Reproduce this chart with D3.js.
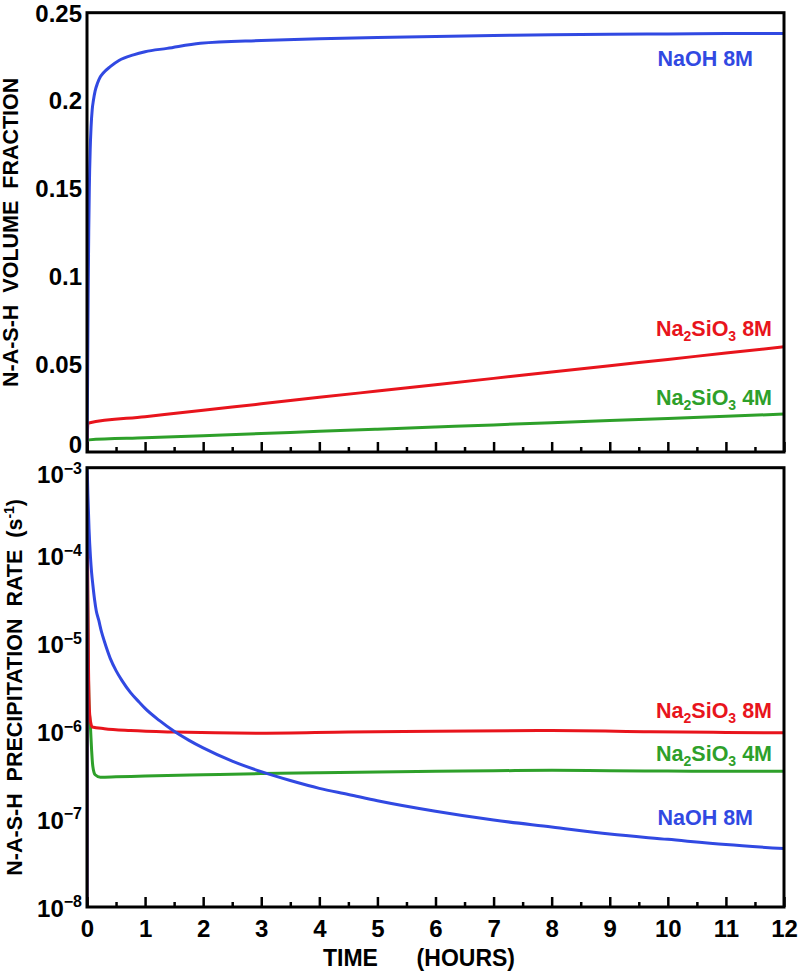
<!DOCTYPE html>
<html>
<head>
<meta charset="utf-8">
<script src="https://cdn.jsdelivr.net/npm/d3@7/dist/d3.min.js"></script>
<style>
  html, body { margin: 0; padding: 0; background: #fff; }
  svg { display: block; font-family: "Liberation Sans", Arial, Helvetica, sans-serif; font-weight: bold; }
</style>
</head>
<body>
<svg id="chart" width="798" height="973"></svg>
<script>
// ---------- DATA ----------
const xTicks = [0,1,2,3,4,5,6,7,8,9,10,11,12];
const xMinorTicks = [0.5,1.5,2.5,3.5,4.5,5.5,6.5,7.5,8.5,9.5,10.5,11.5];
const topYTicks = [0, 0.05, 0.1, 0.15, 0.2, 0.25];
const topYTickLabels = ["0", "0.05", "0.1", "0.15", "0.2", "0.25"];
const botYTicks = [1e-3, 1e-4, 1e-5, 1e-6, 1e-7, 1e-8];
const botYTickExponents = ["\u22123", "\u22124", "\u22125", "\u22126", "\u22127", "\u22128"];

// Top panel: volume fraction
const naohFracT = [0, 0.01, 0.02, 0.03, 0.04, 0.055, 0.07, 0.09, 0.11, 0.14, 0.18, 0.23, 0.28, 0.4, 0.55, 0.8, 1.0, 1.38, 1.95, 3, 4, 5, 6, 7, 8, 9, 10, 11, 12];
const naohFracV = [0, 0.04, 0.09, 0.125, 0.15, 0.172, 0.185, 0.195, 0.2, 0.2055, 0.2098, 0.2135, 0.2157, 0.2193, 0.2228, 0.226, 0.2278, 0.2297, 0.2326, 0.2342, 0.2352, 0.2359, 0.2365, 0.237, 0.2374, 0.2377, 0.2379, 0.2381, 0.2382];

const na8FracT = [0, 0.015, 0.03, 1, 2, 3, 4, 5, 6, 7, 8, 9, 10, 11, 12];
const na8FracV = [0, 0.0163, 0.0165, 0.0201, 0.0238, 0.0274, 0.0311, 0.0347, 0.0383, 0.0419, 0.0455, 0.0491, 0.0527, 0.0563, 0.0599];

const na4FracT = [0, 0.015, 0.03, 1, 2, 3, 4, 5, 6, 7, 8, 9, 10, 11, 12];
const na4FracV = [0, 0.0068, 0.0069, 0.0081, 0.0093, 0.0105, 0.0118, 0.013, 0.0142, 0.0154, 0.0167, 0.0179, 0.0191, 0.0203, 0.0216];

// Bottom panel: precipitation rate (s^-1)
const naohRateT = [0, 0.002, 0.006, 0.015, 0.035, 0.06, 0.08, 0.1, 0.13, 0.16, 0.2, 0.25, 0.3, 0.4, 0.5, 0.6, 0.75, 0.9, 1.0, 1.25, 1.5, 1.75, 2.0, 2.5, 3.0, 3.5, 4.0, 4.5, 5, 6, 7, 8, 9, 10, 11, 12];
const naohRateV = [1e-8, 1e-3, 8.9e-4, 5e-4, 2e-4, 9.55e-5, 6.31e-5, 4.68e-5, 3.16e-5, 2.34e-5, 1.86e-5, 1.35e-5, 1.05e-5, 6.76e-6, 4.9e-6, 3.8e-6, 2.75e-6, 2.14e-6, 1.82e-6, 1.32e-6, 1.0e-6, 7.94e-7, 6.46e-7, 4.57e-7, 3.47e-7, 2.75e-7, 2.24e-7, 1.91e-7, 1.62e-7, 1.23e-7, 9.77e-8, 8.13e-8, 6.76e-8, 5.89e-8, 5.13e-8, 4.62e-8];

const na8RateT = [0, 0.003, 0.008, 0.015, 0.025, 0.04, 0.06, 0.09, 0.3, 0.75, 1.5, 3, 4.5, 6, 8, 9.7, 11, 12];
const na8RateV = [1e-8, 5.5e-4, 1.5e-4, 3e-5, 6e-6, 1.8e-6, 1.3e-6, 1.12e-6, 1.07e-6, 1.02e-6, 9.8e-7, 9.5e-7, 9.8e-7, 1.0e-6, 1.02e-6, 9.9e-7, 9.7e-7, 9.6e-7];

const na4RateT = [0, 0.004, 0.01, 0.02, 0.035, 0.06, 0.08, 0.1, 0.14, 0.23, 0.5, 1, 2, 3, 4, 5, 6, 7, 8, 9, 10, 11, 12];
const na4RateV = [1e-8, 3e-4, 5e-5, 8e-6, 2e-6, 1.1e-6, 6e-7, 4e-7, 3.2e-7, 3.0e-7, 3.03e-7, 3.1e-7, 3.2e-7, 3.3e-7, 3.38e-7, 3.45e-7, 3.5e-7, 3.55e-7, 3.6e-7, 3.56e-7, 3.53e-7, 3.5e-7, 3.5e-7];

const seriesNames = ["NaOH 8M", "Na2SiO3 8M", "Na2SiO3 4M"];
const seriesColors = ["#3149e2", "#e8141c", "#2ea02a"];

// ---------- LAYOUT ----------
const svg = d3.select("#chart");
const L = 87, R = 784;
const topP = { y0: 12.7, y1: 452 };
const botP = { y0: 467.7, y1: 907 };
const FONT = "Liberation Sans, Arial, sans-serif";

const x = d3.scaleLinear().domain([0, 12]).range([L, R]);
const yTop = d3.scaleLinear().domain([0, 0.25]).range([topP.y1, topP.y0]);
const yBot = d3.scaleLog().domain([1e-8, 1e-3]).range([botP.y1, botP.y0]);

const defs = svg.append("defs");
[["clipTop", topP], ["clipBot", botP]].forEach(([id, p]) => {
  defs.append("clipPath").attr("id", id).append("rect")
    .attr("x", L).attr("y", p.y0 - 1).attr("width", R - L + 1).attr("height", p.y1 - p.y0 + 2);
});

function zip(t, v) { return t.map((d, i) => [d, v[i]]); }

function drawLine(data, yS, color, clip) {
  const line = d3.line().x(d => x(d[0])).y(d => yS(d[1])).curve(d3.curveMonotoneX);
  svg.append("path").datum(data)
    .attr("clip-path", `url(#${clip})`)
    .attr("fill", "none").attr("stroke", color).attr("stroke-width", 3)
    .attr("stroke-linejoin", "round").attr("d", line);
}

// Top lines
drawLine(zip(na4FracT, na4FracV), yTop, seriesColors[2], "clipTop");
drawLine(zip(na8FracT, na8FracV), yTop, seriesColors[1], "clipTop");
drawLine(zip(naohFracT, naohFracV), yTop, seriesColors[0], "clipTop");
// Bottom lines
drawLine(zip(na4RateT, na4RateV), yBot, seriesColors[2], "clipBot");
drawLine(zip(na8RateT, na8RateV), yBot, seriesColors[1], "clipBot");
drawLine(zip(naohRateT, naohRateV), yBot, seriesColors[0], "clipBot");

// X axes (inward ticks)
function xAxes(p, labels) {
  const gMin = svg.append("g").attr("transform", `translate(0,${p.y1})`)
    .call(d3.axisBottom(x).tickValues(xMinorTicks).tickSize(-5).tickFormat(""));
  const gMaj = svg.append("g").attr("transform", `translate(0,${p.y1})`)
    .call(d3.axisBottom(x).tickValues(xTicks).tickSize(-10)
      .tickFormat(labels ? d3.format("d") : ""));
  [gMin, gMaj].forEach(g => {
    g.select(".domain").remove();
    g.selectAll(".tick line").attr("stroke", "#000").attr("stroke-width", 2.5);
  });
  gMaj.selectAll(".tick text").attr("font-size", 24).attr("fill", "#000")
    .attr("font-family", FONT).attr("font-weight", "bold")
    .attr("dy", "0.35em").attr("y", 22);
}
xAxes(topP, false);
xAxes(botP, true);

// Y axes labels
const gTopY = svg.append("g").attr("transform", `translate(${L},0)`)
  .call(d3.axisLeft(yTop).tickValues(topYTicks).tickSize(0).tickPadding(5)
    .tickFormat((d, i) => topYTickLabels[i]));
gTopY.select(".domain").remove();
gTopY.selectAll(".tick text").attr("font-size", 24).attr("fill", "#000")
  .attr("font-family", FONT).attr("font-weight", "bold")
  .attr("dy", d => d === 0 ? "0.02em" : "0.35em");

const gBotY = svg.append("g").attr("transform", `translate(${L},0)`)
  .call(d3.axisLeft(yBot).tickValues(botYTicks).tickSize(0).tickPadding(5).tickFormat(""));
gBotY.select(".domain").remove();
gBotY.selectAll(".tick").each(function (d, i) {
  const t = d3.select(this).select("text");
  t.text(null).attr("font-size", 24).attr("fill", "#000")
    .attr("font-family", FONT).attr("font-weight", "bold")
    .attr("dy", i === 0 ? "0.62em" : "0.38em");
  t.append("tspan").text("10");
  t.append("tspan").text(botYTickExponents[i]).attr("font-size", 16).attr("dy", "-0.58em");
});

// Frames
[topP, botP].forEach(p => {
  svg.append("rect").attr("x", L).attr("y", p.y0).attr("width", R - L).attr("height", p.y1 - p.y0)
    .attr("fill", "none").attr("stroke", "#000").attr("stroke-width", 3);
});

// Axis titles
svg.append("text").attr("x", 323).attr("y", 966).attr("font-size", 23).attr("fill", "#000").text("TIME");
svg.append("text").attr("x", 515).attr("y", 966).attr("text-anchor", "end").attr("font-size", 23).attr("fill", "#000").text("(HOURS)");

svg.append("text").attr("transform", `translate(18,${(topP.y0 + topP.y1) / 2}) rotate(-90)`)
  .attr("text-anchor", "middle").attr("font-size", 21.5).attr("fill", "#000")
  .style("white-space", "pre").text("N-A-S-H  VOLUME  FRACTION");

const bt = svg.append("text").attr("transform", `translate(22,${(botP.y0 + botP.y1) / 2}) rotate(-90)`)
  .attr("text-anchor", "middle").attr("font-size", 21.5).attr("fill", "#000").style("white-space", "pre");
bt.append("tspan").text("N-A-S-H  PRECIPITATION  RATE  (s");
bt.append("tspan").text("-1").attr("font-size", 14).attr("dy", "-0.6em");
bt.append("tspan").text(")").attr("dy", "0.38em");

// Series labels
function seriesLabel(name, color, xEnd, yBase) {
  const t = svg.append("text").attr("x", xEnd).attr("y", yBase).attr("text-anchor", "end")
    .attr("font-size", 21.5).attr("fill", color);
  if (name.startsWith("Na2SiO3")) {
    t.append("tspan").text("Na");
    t.append("tspan").text("2").attr("font-size", 14).attr("dy", 5);
    t.append("tspan").text("SiO").attr("dy", -5);
    t.append("tspan").text("3").attr("font-size", 14).attr("dy", 5);
    t.append("tspan").text(name.slice(7)).attr("dy", -5);
  } else {
    t.text(name);
  }
}
seriesLabel(seriesNames[0], seriesColors[0], 753, 66);
seriesLabel(seriesNames[1], seriesColors[1], 772, 336);
seriesLabel(seriesNames[2], seriesColors[2], 772, 405);
seriesLabel(seriesNames[1], seriesColors[1], 772, 718);
seriesLabel(seriesNames[2], seriesColors[2], 772, 761);
seriesLabel(seriesNames[0], seriesColors[0], 753, 825);
</script>
</body>
</html>
